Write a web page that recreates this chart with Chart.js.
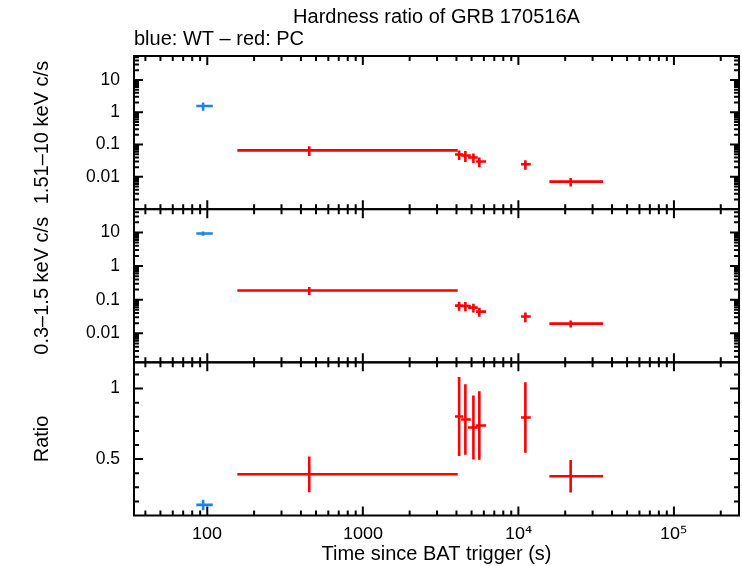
<!DOCTYPE html>
<html>
<head>
<meta charset="utf-8">
<script src="https://cdn.jsdelivr.net/npm/chart.js@4.4.1/dist/chart.umd.min.js"></script>
<style>
html,body{margin:0;padding:0;background:#fff;}
#c{display:block;}
@font-face { font-family: 'PlotSans'; src: local('DejaVu Sans'), local('DejaVuSans'); unicode-range: U+2070-209F; }
@font-face { font-family: 'PlotSans'; src: local('Liberation Sans'), local('LiberationSans'); unicode-range: U+0000-206F, U+20A0-FFFF; }
</style>
</head>
<body>
<canvas id="c" width="742" height="566"></canvas>
<script>
// ---- texts ----
const titleText = 'Hardness ratio of GRB 170516A';
const subtitleText = 'blue: WT \u2013 red: PC';
const xTitle = 'Time since BAT trigger (s)';
const hardTitle = '1.51\u201310 keV c/s';
const softTitle = '0.3\u20131.5 keV c/s';
const ratioTitle = 'Ratio';

// ---- tick labels ----
const xTicks = [100, 1000, 10000, 100000];
const xTickLabels = ['100', '1000', '10\u2074', '10\u2075'];
const rateTicks = [0.01, 0.1, 1, 10];
const rateTickLabels = ['0.01', '0.1', '1', '10'];
const ratioTicks = [0.5, 1];
const ratioTickLabels = ['0.5', '1'];

// ---- WT mode (blue) ----
const wtTime   = [94];
const wtTimeLo = [85];
const wtTimeHi = [108.5];
const wtHard   = [1.56];
const wtHardErr= [0.45];
const wtSoft   = [9.34];
const wtSoftErr= [1.4];
const wtRatio  = [0.175];
const wtRatioErr=[0.037];

// ---- PC mode (red) ----
const pcTime   = [452.5, 4160, 4563, 5140, 5610, 11090, 21680];
const pcTimeLo = [156, 3917, 4285, 4750, 5348, 10400, 15810];
const pcTimeHi = [4074, 4426, 4946, 5483, 6198, 12020, 35080];
const pcHard   = [0.066, 0.0493, 0.0459, 0.0398, 0.0299, 0.0246, 0.00714];
const pcHardErr= [0.022, 0.016, 0.017, 0.013, 0.010, 0.008, 0.0021];
const pcSoft   = [0.187, 0.0668, 0.0651, 0.0583, 0.0443, 0.0315, 0.0194];
const pcSoftErr= [0.05, 0.02, 0.02, 0.017, 0.013, 0.010, 0.0045];
const pcRatio  = [0.392, 0.802, 0.781, 0.724, 0.738, 0.795, 0.378];
const pcRatioErr=[0.127, 0.28, 0.25, 0.227, 0.243, 0.25, 0.115];

const BLUE = '#1884f0';
const RED = '#ff0000';
const FAMILY = "'Liberation Sans', 'DejaVu Sans', sans-serif";
const XTICK_FAMILY = "PlotSans, 'Liberation Sans', 'DejaVu Sans', sans-serif";
const TITLE_FONT = {family: FAMILY, size: 20, weight: 'normal', lineHeight: 1.2};
const HEAD_FONT = {family: FAMILY, size: 20, weight: 'normal', lineHeight: 1.0};
const TICK_FONT = {family: FAMILY, size: 17.5, weight: 'normal'};
const XTICK_FONT = {family: XTICK_FAMILY, size: 17.5, weight: 'normal'};

function pts(t, v) { return t.map((x, i) => ({x: x, y: v[i]})); }
function ds(label, axis, color, t, lo, hi, v, e) {
  return {label, yAxisID: axis, data: pts(t, v), xLo: lo, xHi: hi, yErr: e,
    borderColor: color, backgroundColor: color, pointRadius: 0, showLine: false};
}

const errorBars = {
  id: 'errorBars',
  afterDatasetsDraw(chart) {
    const ctx = chart.ctx, xs = chart.scales.x;
    chart.data.datasets.forEach(d => {
      const ys = chart.scales[d.yAxisID];
      ctx.save();
      ctx.strokeStyle = d.borderColor;
      ctx.lineWidth = 2.6;
      ctx.lineCap = 'butt';
      ctx.beginPath();
      d.data.forEach((p, i) => {
        const px = xs.getPixelForValue(p.x), py = ys.getPixelForValue(p.y);
        ctx.moveTo(xs.getPixelForValue(d.xLo[i]), py);
        ctx.lineTo(xs.getPixelForValue(d.xHi[i]), py);
        ctx.moveTo(px, ys.getPixelForValue(p.y + d.yErr[i]));
        ctx.lineTo(px, ys.getPixelForValue(p.y - d.yErr[i]));
      });
      ctx.stroke();
      ctx.restore();
    });
  }
};

const frame = {
  id: 'frame',
  afterDraw(chart) {
    const ctx = chart.ctx, xs = chart.scales.x, a = chart.chartArea;
    const L = a.left, R = a.right;
    const xMaj = [], xMin = [];
    for (let k = 1; k <= 5; k++) {
      const d = Math.pow(10, k);
      if (d >= xs.min && d <= xs.max) xMaj.push(d);
      for (let m = 2; m <= 9; m++) { const v = m * d; if (v > xs.min && v < xs.max) xMin.push(v); }
    }
    ctx.save();
    ctx.strokeStyle = '#000';
    ctx.lineWidth = 2;
    ctx.lineCap = 'butt';
    ['yHard', 'ySoft', 'yRatio'].forEach(id => {
      const ys = chart.scales[id];
      const T = ys.top, B = ys.bottom;
      ctx.beginPath();
      const xt = (v, len) => { const p = xs.getPixelForValue(v); ctx.moveTo(p, T); ctx.lineTo(p, T + len); ctx.moveTo(p, B); ctx.lineTo(p, B - len); };
      xMaj.forEach(v => xt(v, 9));
      xMin.forEach(v => xt(v, 5));
      const yt = (v, len) => { const p = ys.getPixelForValue(v); ctx.moveTo(L, p); ctx.lineTo(L + len, p); ctx.moveTo(R, p); ctx.lineTo(R - len, p); };
      if (ys.type === 'logarithmic') {
        for (let k = -4; k <= 2; k++) {
          const d = Math.pow(10, k);
          if (d > ys.min && d < ys.max) yt(d, 9);
          for (let m = 2; m <= 9; m++) { const v = m * d; if (v > ys.min && v < ys.max) yt(v, 5); }
        }
      } else {
        for (let j = 1; j <= 12; j++) {
          const v = j / 10;
          if (v > ys.min + 1e-9 && v < ys.max) yt(v, (j % 5 === 0) ? 9 : 5);
        }
      }
      ctx.stroke();
      ctx.strokeRect(L, T, R - L, B - T);
    });
    ctx.restore();
  }
};

function yAxis(type, min, max, ticks, labels, title) {
  return {
    type, min, max, stack: 'panels', stackWeight: 1, position: 'left',
    afterBuildTicks: s => { s.ticks = ticks.map(v => ({value: v})); },
    ticks: {callback: (v, i) => labels[i], padding: 14, color: '#000', font: TICK_FONT, autoSkip: false},
    grid: {display: false, drawTicks: false},
    border: {display: false},
    title: {display: true, text: title, color: '#000', font: TITLE_FONT, padding: {top: 30, bottom: 0}},
    afterFit: s => { s.width = 134; }
  };
}

function build() {
  new Chart(document.getElementById('c'), {
    type: 'scatter',
    data: {
      datasets: [
        ds('WT hard', 'yHard', BLUE, wtTime, wtTimeLo, wtTimeHi, wtHard, wtHardErr),
        ds('PC hard', 'yHard', RED, pcTime, pcTimeLo, pcTimeHi, pcHard, pcHardErr),
        ds('WT soft', 'ySoft', BLUE, wtTime, wtTimeLo, wtTimeHi, wtSoft, wtSoftErr),
        ds('PC soft', 'ySoft', RED, pcTime, pcTimeLo, pcTimeHi, pcSoft, pcSoftErr),
        ds('WT ratio', 'yRatio', BLUE, wtTime, wtTimeLo, wtTimeHi, wtRatio, wtRatioErr),
        ds('PC ratio', 'yRatio', RED, pcTime, pcTimeLo, pcTimeHi, pcRatio, pcRatioErr)
      ]
    },
    options: {
      responsive: false,
      animation: false,
      devicePixelRatio: 1,
      layout: {padding: {left: 0, right: 3, top: 0, bottom: 0}},
      plugins: {
        legend: {display: false},
        tooltip: {enabled: false},
        title: {display: true, text: titleText, fullSize: false, align: 'center', color: '#000', font: HEAD_FONT, padding: {top: 7.5, bottom: 0}},
        subtitle: {display: true, text: subtitleText, fullSize: false, align: 'start', color: '#000', font: HEAD_FONT, padding: {top: 1.5, bottom: 7}}
      },
      scales: {
        x: {
          type: 'logarithmic', position: 'bottom', min: 33.8, max: 262000,
          afterBuildTicks: s => { s.ticks = xTicks.map(v => ({value: v})); },
          ticks: {callback: (v, i) => xTickLabels[i], padding: 8, color: '#000', font: XTICK_FONT, autoSkip: false, maxRotation: 0},
          grid: {display: false, drawTicks: false},
          border: {display: false},
          title: {display: true, text: xTitle, color: '#000', font: TITLE_FONT, padding: {top: 0, bottom: 0}},
          afterFit: s => { s.height = 50.5; }
        },
        yRatio: yAxis('linear', 0.1, 1.186, ratioTicks, ratioTickLabels, ratioTitle),
        ySoft: yAxis('logarithmic', 0.00137, 49.4, rateTicks, rateTickLabels, softTitle),
        yHard: yAxis('logarithmic', 0.001, 55, rateTicks, rateTickLabels, hardTitle)
      }
    },
    plugins: [errorBars, frame]
  });
}

let built = false;
function go() { if (!built) { built = true; build(); } }
if (document.fonts && document.fonts.load) {
  Promise.all([
    document.fonts.load("17.5px PlotSans", "10\u2074\u2075"),
    document.fonts.load("17.5px PlotSans", "1000")
  ]).then(go, go);
  setTimeout(go, 1500);
} else {
  go();
}
</script>
</body>
</html>
